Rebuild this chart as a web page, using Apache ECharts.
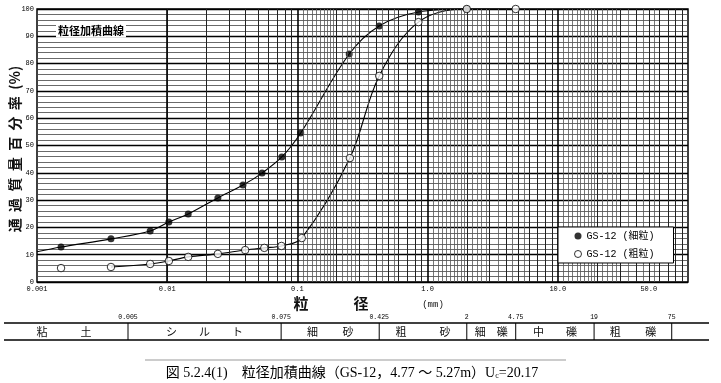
<!DOCTYPE html>
<html><head><meta charset="utf-8">
<script src="https://cdn.jsdelivr.net/npm/echarts@6/dist/echarts.min.js"></script>
<style>html,body{margin:0;padding:0;background:#fff}#c{width:721px;height:383px}</style>
</head><body><div id="c"></div>
<script>
// ---- data ----
const fineX = [0.00153, 0.0037, 0.0074, 0.0103, 0.0145, 0.0245, 0.0382, 0.0535, 0.0759, 0.106, 0.25, 0.425, 0.85, 2.0];
const fineY = [12.8, 15.8, 18.7, 22.0, 24.9, 30.8, 35.5, 39.9, 45.8, 54.6, 83.5, 93.8, 98.9, 100];
const coarseX = [0.00153, 0.0037, 0.0074, 0.0103, 0.0145, 0.0245, 0.0397, 0.0557, 0.0754, 0.108, 0.253, 0.425, 0.85, 2.0, 4.75];
const coarseY = [5.1, 5.5, 6.6, 7.7, 9.2, 10.3, 11.7, 12.5, 13.2, 16.1, 45.4, 75.5, 95.2, 100, 100];
const fineCurveStart = [0.001, 11.1];
const coarseCurveFirstIndex = 1;
const seriesNames = ['GS-12 (細粒)', 'GS-12 (粗粒)'];
const xTickValues = [0.001, 0.01, 0.1, 1, 10, 50];
const xTickLabels = ['0.001', '0.01', '0.1', '1.0', '10.0', '50.0'];
const boundaryValues = [0.005, 0.075, 0.425, 2, 4.75, 19, 75];
const boundaryLabels = ['0.005', '0.075', '0.425', '2', '4.75', '19', '75'];
const soilNames = ['粘　　　土', 'シ　　ル　　ト', '細　　 砂', '粗　　　砂', '細　礫', '中　　礫', '粗　　 礫'];
const decades = [0.001, 0.01, 0.1, 1, 10, 100];
const thinMultipliers = [1.1, 1.2, 1.3, 1.4, 1.5, 1.6, 1.7, 1.8, 1.9, 2.2, 2.4, 2.6, 2.8, 3.5, 4.5, 5.5];
const midMultipliers = [2, 3, 4, 5, 6, 7, 8, 9];
const chartTitle = '粒径加積曲線';
const yName = '通  過  質  量  百  分  率  (%)';
const xName = '粒　　　径';
const xUnit = '(mm)';
const caption = '図 5.2.4(1)　粒径加積曲線（GS-12，4.77 ～ 5.27m）U{sub|c}=20.17';

const pairs = (xs, ys) => xs.map((x, i) => [x, ys[i]]);
const finePts = pairs(fineX, fineY);
const coarsePts = pairs(coarseX, coarseY);

const gridLines = [];
for (let d = 0; d < decades.length - 1; d++) {
  thinMultipliers.forEach(m => gridLines.push({xAxis: decades[d] * m, lineStyle: {color: '#555', width: 0.8, type: 'solid'}}));
  midMultipliers.forEach(m => gridLines.push({xAxis: decades[d] * m, lineStyle: {color: '#222', width: 1, type: 'solid'}}));
  if (d > 0) gridLines.push({xAxis: decades[d], lineStyle: {color: '#000', width: 1.6, type: 'solid'}});
}

const chart = echarts.init(document.getElementById('c'), null, {renderer: 'canvas'});
const monoFont = 'Liberation Mono';
const cjk = 'Noto Sans CJK JP';

chart.setOption({
  animation: false,
  backgroundColor: '#fff',
  grid: {left: 37, right: 33, top: 9, bottom: 101, show: true, borderColor: '#000', borderWidth: 1.5, backgroundColor: 'transparent'},
  xAxis: {
    type: 'log', logBase: 10, min: 0.001, max: 100,
    axisLine: {show: false}, axisTick: {show: false}, splitLine: {show: false},
    axisLabel: {
      customValues: xTickValues,
      formatter: v => {
        const i = xTickValues.findIndex(t => Math.abs(Math.log10(t) - Math.log10(v)) < 1e-6);
        return i >= 0 ? xTickLabels[i] : '';
      },
      fontSize: 7, fontFamily: monoFont, color: '#000', margin: 4
    }
  },
  yAxis: {
    type: 'value', min: 0, max: 100, interval: 10,
    axisLine: {show: false}, axisTick: {show: false},
    axisLabel: {fontSize: 7, fontFamily: monoFont, color: '#000', margin: 3},
    splitLine: {show: true, lineStyle: {color: '#000', width: 1.3}},
    minorTick: {show: false, splitNumber: 5},
    minorSplitLine: {show: true, lineStyle: {color: '#444', width: 0.8}}
  },
  legend: {
    left: 558, top: 227, orient: 'vertical', z: 50,
    backgroundColor: '#fff', borderColor: '#000', borderWidth: 1,
    padding: [4, 19, 4, 16], itemGap: 8, itemWidth: 7, itemHeight: 7,
    textStyle: {fontSize: 10, fontFamily: monoFont + ', ' + cjk, color: '#000'},
    data: [
      {name: seriesNames[0], icon: 'circle', itemStyle: {color: '#000', borderWidth: 0}},
      {name: seriesNames[1], icon: 'circle', itemStyle: {color: '#fff', borderColor: '#000', borderWidth: 1}}
    ]
  },
  series: [
    {
      type: 'line', data: [], silent: true, z: 1,
      markLine: {silent: true, symbol: ['none', 'none'], label: {show: false}, animation: false, data: gridLines}
    },
    {
      type: 'line', data: [fineCurveStart].concat(finePts), showSymbol: false, symbol: 'none', smooth: 0.35,
      lineStyle: {color: '#000', width: 1.1}, silent: true, z: 3
    },
    {
      type: 'line', data: coarsePts.slice(coarseCurveFirstIndex), showSymbol: false, symbol: 'none', smooth: 0.35,
      lineStyle: {color: '#000', width: 1.1}, silent: true, z: 3
    },
    {
      name: seriesNames[0], type: 'scatter', data: finePts, symbol: 'circle', symbolSize: 7,
      itemStyle: {color: '#000'}, z: 4
    },
    {
      name: seriesNames[1], type: 'scatter', data: coarsePts, symbol: 'circle', symbolSize: 7.5,
      itemStyle: {color: '#fff', borderColor: '#000', borderWidth: 1}, z: 5
    }
  ]
});

const px = v => chart.convertToPixel({xAxisIndex: 0}, v);
const tableTop = 323, tableBottom = 340, tableLeft = 4, tableRight = 709;
const g = [];
// in-plot title
g.push({type: 'text', x: 91, y: 31, z: 100, style: {text: chartTitle, align: 'center', verticalAlign: 'middle', fontSize: 11, fontWeight: 'bold', fontFamily: cjk, fill: '#000', backgroundColor: '#fff', padding: [1, 2]}});
// y axis name
g.push({type: 'text', x: 15, y: 149, rotation: Math.PI / 2, z: 100, style: {text: yName, align: 'center', verticalAlign: 'middle', fontSize: 14, fontWeight: 'bold', fontFamily: cjk, fill: '#111'}});
// x axis name
g.push({type: 'text', x: 331, y: 303, z: 100, style: {text: xName, align: 'center', verticalAlign: 'middle', fontSize: 15, fontWeight: 'bold', fontFamily: cjk, fill: '#111'}});
g.push({type: 'text', x: 433, y: 305, z: 100, style: {text: xUnit, align: 'center', verticalAlign: 'middle', fontSize: 9, fontFamily: monoFont, fill: '#111'}});
// table lines
g.push({type: 'line', z: 100, shape: {x1: tableLeft, y1: tableTop, x2: tableRight, y2: tableTop}, style: {stroke: '#000', lineWidth: 1.6}});
g.push({type: 'line', z: 100, shape: {x1: tableLeft, y1: tableBottom, x2: tableRight, y2: tableBottom}, style: {stroke: '#000', lineWidth: 1.6}});
boundaryValues.forEach((v, i) => {
  const x = px(v);
  g.push({type: 'line', z: 100, shape: {x1: x, y1: tableTop, x2: x, y2: tableBottom}, style: {stroke: '#000', lineWidth: 1}});
  g.push({type: 'text', x: x, y: 317, z: 100, style: {text: boundaryLabels[i], align: 'center', verticalAlign: 'middle', fontSize: 6.5, fontFamily: monoFont, fill: '#000'}});
});
soilNames.forEach((name, i) => {
  const a = i === 0 ? 0 : px(boundaryValues[i - 1]);
  const b = px(boundaryValues[i]);
  g.push({type: 'text', x: (a + b) / 2, y: 332, z: 100, style: {text: name, align: 'center', verticalAlign: 'middle', fontSize: 11, fontFamily: cjk, fill: '#111'}});
});
// caption
g.push({type: 'line', z: 100, shape: {x1: 145, y1: 360, x2: 566, y2: 360}, style: {stroke: '#999', lineWidth: 1}});
g.push({type: 'text', x: 352, y: 373, z: 100, style: {
  text: caption, align: 'center', verticalAlign: 'middle', fontSize: 14,
  fontFamily: "'Liberation Serif', 'Noto Sans CJK JP'", fill: '#000',
  rich: {sub: {fontSize: 8, fontFamily: "'Liberation Serif'", verticalAlign: 'bottom', padding: [6, 0, 0, 0]}}
}});
chart.setOption({graphic: g});
</script>
</body></html>
